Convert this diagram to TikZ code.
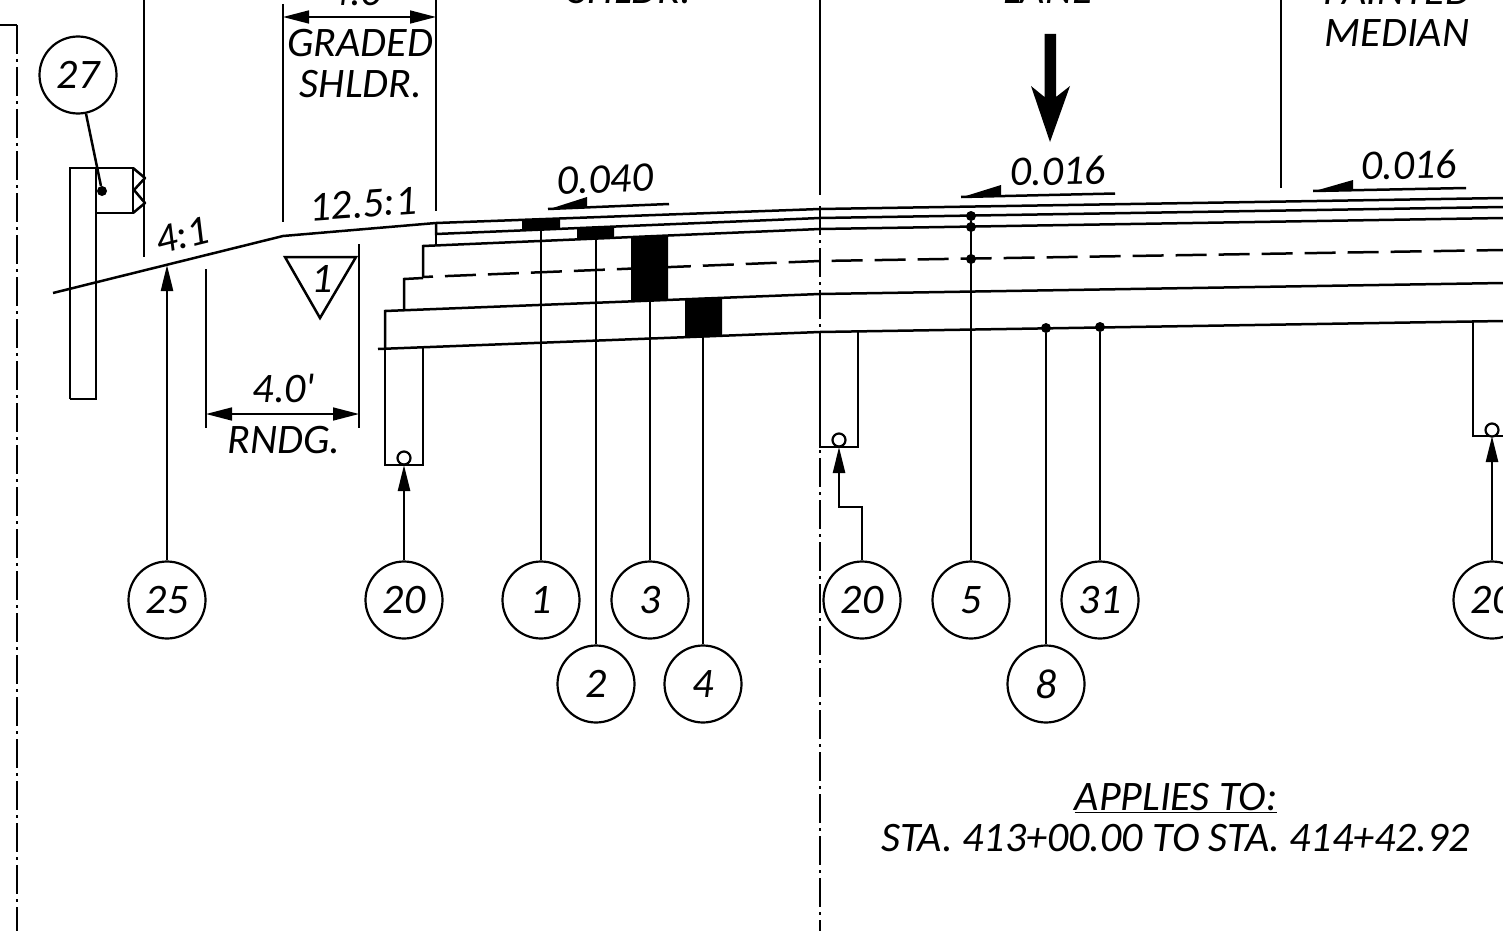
\documentclass[tikz,border=0pt]{standalone}
\usepackage{fontspec}
\setmainfont{Carlito}
\usetikzlibrary{arrows.meta}
\tikzset{
  x=1pt,y=-1pt,
  thinl/.style={line width=1.6pt},
  med/.style={line width=2.5pt},
  bub/.style={circle,draw,line width=2.2pt,minimum size=77pt,inner sep=0pt,font=\lab},
  lbl/.style={inner sep=0pt,font=\lab,align=center},
  dotn/.style={circle,fill=black,inner sep=0pt,minimum size=10pt},
  opn/.style={circle,draw,fill=white,line width=2.2pt,inner sep=0pt,minimum size=13pt},
  lead/.style={med},
  head/.style={med,-{Triangle[length=26pt,width=12pt]}},
  dimh/.style={thinl,{Triangle[length=26pt,width=13pt]}-{Triangle[length=26pt,width=13pt]}},
  cl/.style={line width=2.2pt,dash pattern=on 29pt off 5pt on 3pt off 5pt},
}
\newcommand{\lab}{\fontsize{42}{46}\selectfont\itshape}
\newcommand{\bt}[1]{\raisebox{-2.5pt}{#1}}
\begin{document}
\begin{tikzpicture}
\useasboundingbox (0,0) rectangle (1503,931);
\clip (0,0) rectangle (1503,931);
\fill[white] (0,0) rectangle (1503,931);

% centre lines
\coordinate (cla) at (0,25); \coordinate (clb) at (17,25); \coordinate (clc) at (17,931);
\draw[med] (cla) -- (clb);
\draw[cl,dash phase=0pt] (clb) -- (clc);
\coordinate (cld) at (820,206); \coordinate (cle) at (820,931);
\draw[cl] (cld) -- (cle);

% thin extension lines
\foreach \nm/\xx/\ya/\yb in {a/144/0/257,b/283/4/222,c/436/0/211,d/206/269/428,e/359/244/428,f/820/0/195,g/1281/0/188}{
  \coordinate (t\nm a) at (\xx,\ya); \coordinate (t\nm b) at (\xx,\yb);
  \draw[thinl] (t\nm a) -- (t\nm b);
}

% pavement layers
\coordinate (sa) at (53,293); \coordinate (sb) at (283,236); \coordinate (sc) at (436,223);
\coordinate (sd) at (820,209); \coordinate (se) at (1503,198);
\draw[med] (sa) -- (sb) -- (sc) -- (sd) -- (se);
\draw[med] (436,223) -- (436,234) -- (820,218) -- (1503,207);
\draw[med] (436,234) -- (436,245);
\draw[med] (423,277) -- (423,246) -- (820,229) -- (1503,218);
\draw[med] (404,310) -- (404,279) -- (423,278);
\draw[med,dash pattern=on 31pt off 12pt,dash phase=21pt] (423,277) -- (820,261) -- (1503,250);
\draw[med] (385,349) -- (385,311) -- (820,294) -- (1503,283);
\draw[med] (378,349) -- (820,332) -- (1503,321);

% curb boxes
\draw[med] (385,349) -- (385,465) -- (423,465) -- (423,348);
\draw[med] (820,332) -- (820,447) -- (858,447) -- (858,331);
\draw[med] (1473,322) -- (1473,436) -- (1503,436);

% black blocks
\fill (522,220.5) -- (560,219) -- (560,229) -- (522,230.5) -- cycle;
\fill (577,228) -- (614,226.5) -- (614,238) -- (577,239.5) -- cycle;
\fill (631,236.5) -- (668,235) -- (668,299) -- (631,301) -- cycle;
\fill (685,298.5) -- (722,297) -- (722,336.5) -- (685,338) -- cycle;

% guardrail
\draw[med] (70,399) -- (70,168) -- (133,168) -- (133,213) -- (96,213);
\draw[med] (96,168) -- (96,399) -- (70,399);
\draw[med,line join=round] (133,168) -- (145,178) -- (134,190) -- (145,203) -- (133,213);

% openings
\node[opn] (oa) at (404,458) {};
\node[opn] (ob) at (839,440) {};
\node[opn] (oc) at (1492,430) {};

% dots
\node[dotn] (da) at (971,216) {};
\node[dotn] (db) at (971,227) {};
\node[dotn] (dc) at (971,259) {};
\node[dotn] (dd) at (1046,328) {};
\node[dotn] (de) at (1100,327) {};
\node[dotn] (df) at (102,191) {};

% bubbles
\node[bub] (b27) at (78,75) {\bt{27}};
\node[bub] (b25) at (167,600) {\bt{25}};
\node[bub] (b20a) at (404,600) {\bt{20}};
\node[bub] (b1) at (541,600) {\bt{1}};
\node[bub] (b3) at (650,600) {\bt{3}};
\node[bub] (b20b) at (862,600) {\bt{20}};
\node[bub] (b5) at (971,600) {\bt{5}};
\node[bub] (b31) at (1100,600) {\bt{31}};
\node[bub] (b20c) at (1492,600) {\bt{20}};
\node[bub] (b2) at (596,684) {\bt{2}};
\node[bub] (b4) at (703,684) {\bt{4}};
\node[bub] (b8) at (1046,684) {\bt{8}};

% leaders
\draw[lead] (b27) -- (df);
\coordinate (l1) at (541,230); \draw[lead] (b1) -- (l1);
\coordinate (l2) at (596,239); \draw[lead] (b2) -- (l2);
\coordinate (l3) at (650,300); \draw[lead] (b3) -- (l3);
\coordinate (l4) at (703,337); \draw[lead] (b4) -- (l4);
\draw[lead] (b5) -- (da);
\draw[lead] (b8) -- (dd);
\draw[lead] (b31) -- (de);

% arrow leaders
\coordinate (h25) at (167,265); \draw[head] (b25) -- (h25);
\coordinate (h20a) at (404,465); \draw[head] (b20a) -- (h20a);
\coordinate (h20b) at (839,447); \draw[head] (b20b.north) |- (848,507) -- (839,507) -- (h20b);
\coordinate (h20c) at (1492,436); \draw[head] (b20c) -- (h20c);

% dimensions
\draw[dimh] (tbb |- 0,17) -- (tcb |- 0,17);
\draw[dimh] (tdb |- 0,414) -- (teb |- 0,414);

% large arrow
\fill (1044.5,34) -- (1056,34) -- (1056,97) -- (1070,86) -- (1050,142) -- (1031,86) -- (1044.5,97) -- cycle;

% slope marks
\fill (548,209.5) -- (587,197) -- (587,207) -- cycle;
\draw[med] (548,209) -- (669,204);
\fill (961,197.5) -- (1001,185) -- (1001,195) -- cycle;
\draw[med] (961,197) -- (1115,193.5);
\fill (1313,191.5) -- (1353,180) -- (1353,189.5) -- cycle;
\draw[med] (1313,191) -- (1466,188);

% triangle
\node[lbl] (tri1) at (322,279) {1};
\draw[med,line join=miter] (285,257) -- (356,257) -- (320,318) -- cycle;

% labels
\node[lbl] (tx1) at (360,-9) {4.0\textquotesingle};
\node[lbl] (tx2) at (360,43) {GRADED};
\node[lbl] (tx3) at (361,84) {SHLDR.};
\node[lbl] (tx4) at (630,-10) {SHLDR.};
\node[lbl] (tx5) at (1048,-10) {LANE};
\node[lbl] (tx6) at (1397,-9) {PAINTED};
\node[lbl] (tx7) at (1397,33) {MEDIAN};
\node[lbl,rotate=14] (tx8) at (182,235.5) {4:1};
\node[lbl,rotate=4] (tx9) at (363,204) {12.5:1};
\node[lbl,rotate=2] (tx10) at (605,179) {0.040};
\node[lbl,rotate=1] (tx11) at (1058,171) {0.016};
\node[lbl,rotate=1] (tx12) at (1409,165) {0.016};
\node[lbl] (tx13) at (284,388) {4.0\textquotesingle};
\node[lbl] (tx14) at (284,440) {RNDG.};
\node[lbl] (tx15) at (1176,798) {\underline{APPLIES TO:}};
\node[lbl] (tx16) at (1176,838) {STA. 413+00.00 TO STA. 414+42.92};
\end{tikzpicture}
\end{document}
